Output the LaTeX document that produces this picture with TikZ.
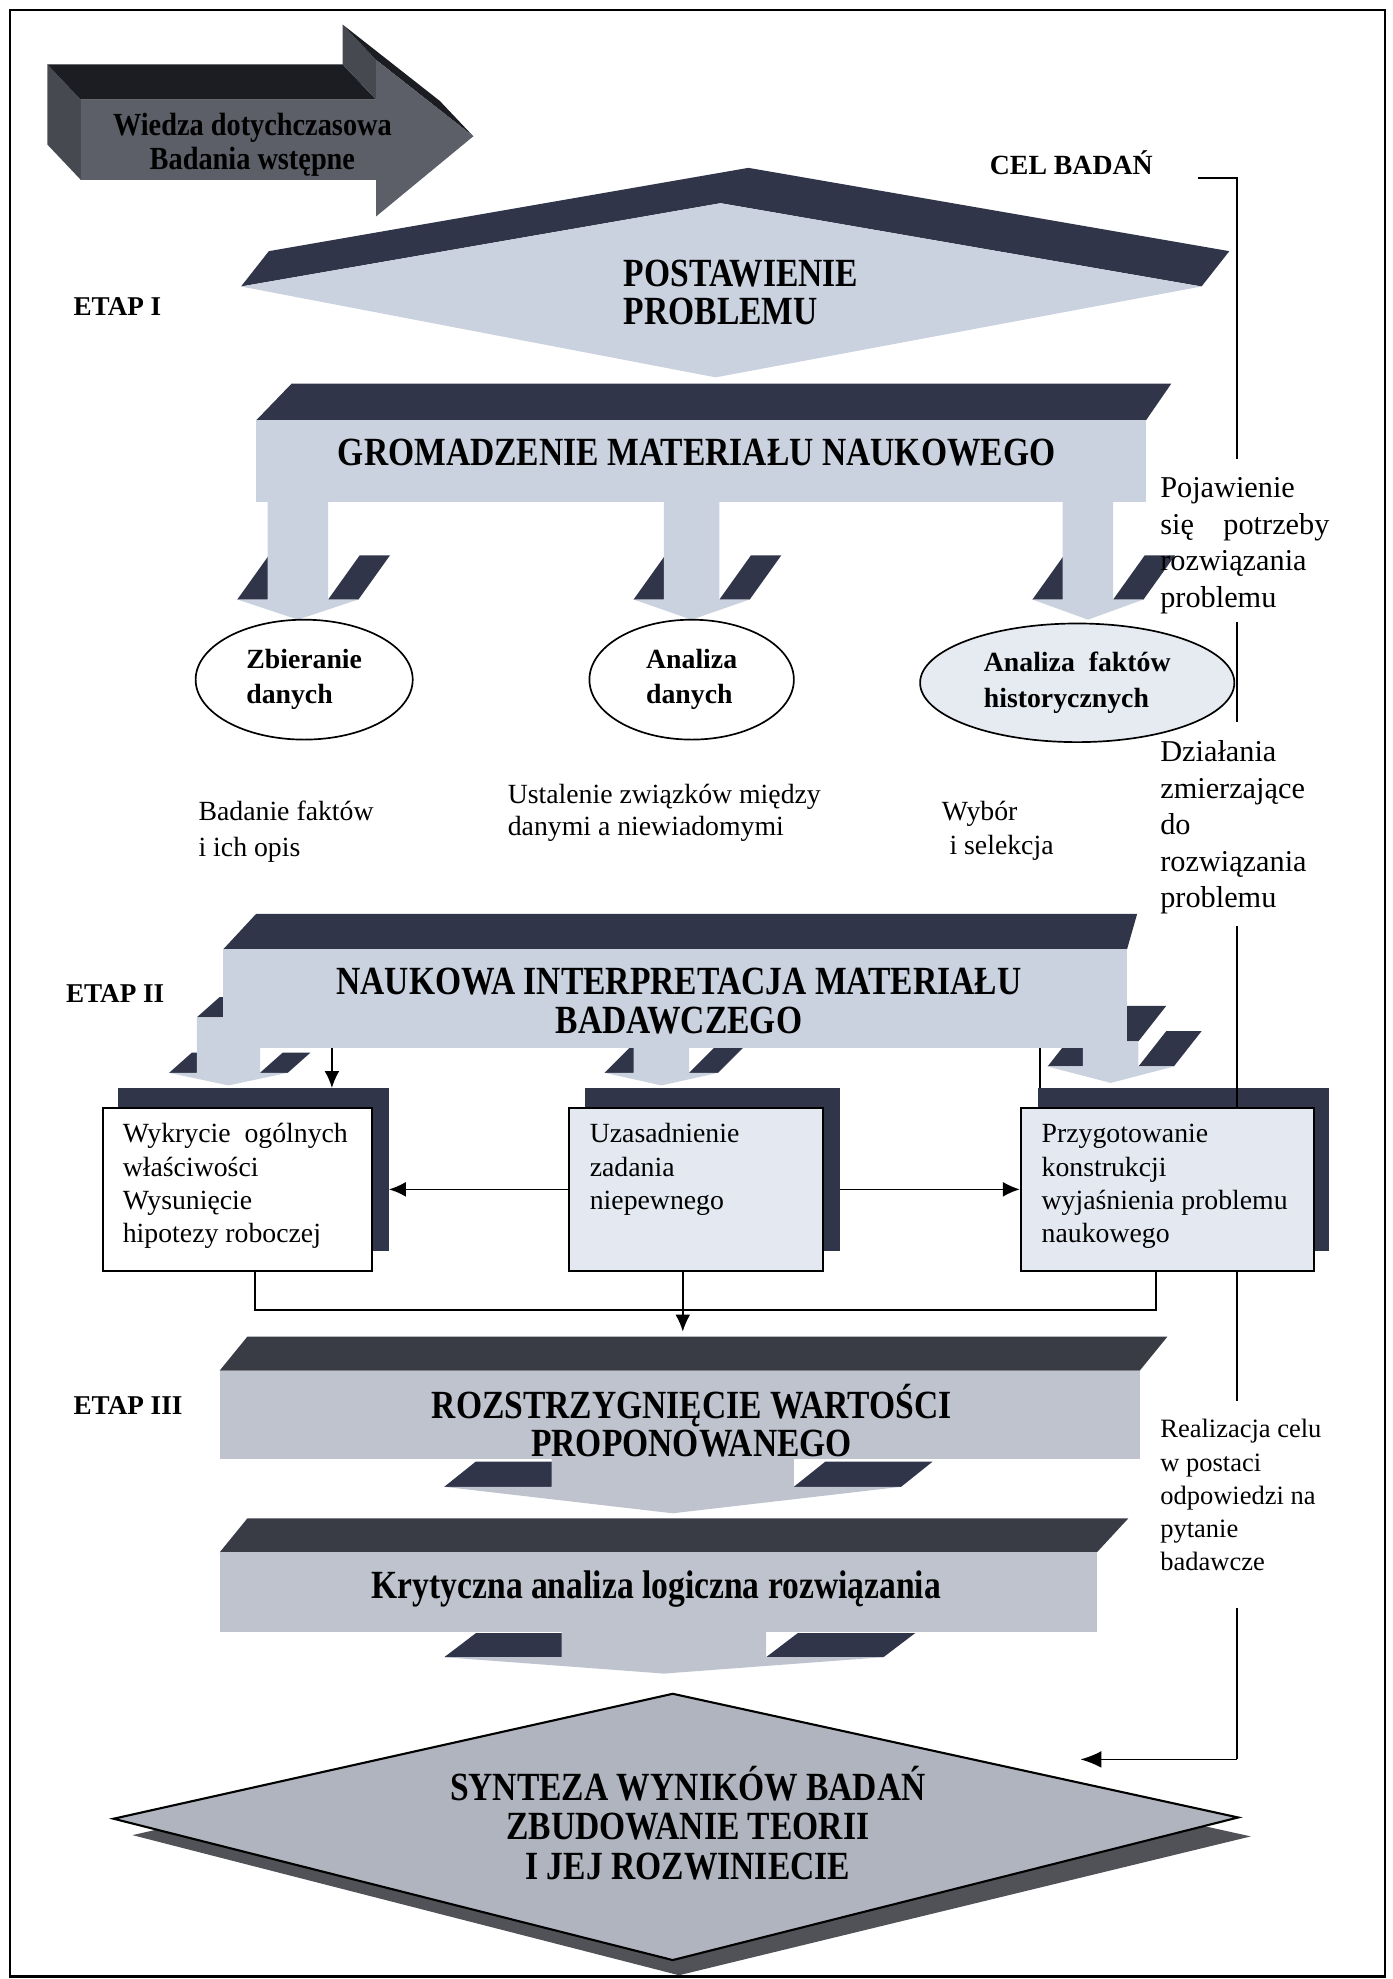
\documentclass[tikz,border=0pt]{standalone}
\usepackage{fontspec}
\setmainfont{Liberation Serif}
\newfontfamily\condfont[FakeStretch=0.84]{Liberation Serif}
\newfontfamily\condfontb[FakeStretch=0.88]{Liberation Serif}
\usetikzlibrary{arrows.meta,shapes.geometric}
\definecolor{lightc}{HTML}{CBD2DF}
\definecolor{greyc}{HTML}{BEC3CD}
\definecolor{darkband}{HTML}{30354A}
\definecolor{greyband}{HTML}{3A3C45}
\definecolor{boxfill}{HTML}{E4E9F1}
\definecolor{ellfill}{HTML}{E6EAF1}
\definecolor{synfill}{HTML}{AFB4BF}
\definecolor{synshadow}{HTML}{505258}
\definecolor{arrfront}{HTML}{5C5F67}
\definecolor{arrtop}{HTML}{1C1D22}
\definecolor{arrside}{HTML}{46494F}
\newcommand\myfs[2]{\fontsize{#1}{#2}\selectfont}
\newcommand\mytopstrut{\rule{0pt}{1em}}
% 3D down arrow: #1 cx, #2 half shaft, #3 half head, #4 shaft top, #5 head base, #6 tip, #7 dx, #8 dy, #9 fill
\newcommand\legarrow[9]{%
 \fill[darkband] ({#1-#3},#5) -- ({#1-#2},#5) -- ({#1-#2+#7},{#5-#8}) -- ({#1-#3+#7},{#5-#8}) -- cycle;
 \fill[darkband] ({#1+#2},#5) -- ({#1+#3},#5) -- ({#1+#3+#7},{#5-#8}) -- ({#1+#2+#7},{#5-#8}) -- cycle;
 \fill[darkband] ({#1-#2},#4) -- ({#1+#2},#4) -- ({#1+#2+#7},{#4-#8}) -- ({#1-#2+#7},{#4-#8}) -- cycle;
 \fill[#9] ({#1-#2},#4) -- ({#1+#2},#4) -- ({#1+#2},#5) -- ({#1+#3},#5) -- (#1,#6) -- ({#1-#3},#5) -- ({#1-#2},#5) -- cycle;}
\begin{document}
\begin{tikzpicture}[x=0.6pt,y=-0.6pt,
  hd/.style={font=\condfont\bfseries\myfs{19}{18.6}, inner sep=0, align=center},
  etap/.style={font=\myfs{12.9}{15}\bfseries, inner sep=0, anchor=base west},
  desc/.style={font=\myfs{13.2}{16.8}, inner sep=0, anchor=north west, align=left},
  side/.style={font=\myfs{14.4}{17.4}, inner sep=0, anchor=north west, align=left},
  ell/.style={ellipse, draw, line width=0.8pt, inner sep=0, font=\myfs{13.2}{16.8}\bfseries, align=left},
  boxs/.style={fill=darkband, inner sep=0, anchor=north west},
  boxf/.style={draw, line width=1pt, inner sep=0, anchor=north west},
  boxt/.style={font=\myfs{13.2}{15.9}, inner sep=0, anchor=north west, align=left},
  conn/.style={line width=0.7pt},
  arr/.style={line width=0.7pt, -{Latex[length=8pt,width=7pt]}}]
\useasboundingbox (0,0) rectangle (1103,1568);
\draw[line width=1pt] (8,8) rectangle (1097,1566);

% top-left 3D arrow
\fill[arrside] (37.5,51) -- (64,79) -- (64,142.5) -- (37.5,114.5) -- cycle;
\fill[arrtop] (37.5,51) -- (271.5,51) -- (298,79) -- (64,79) -- cycle;
\fill[arrside] (271.5,19.5) -- (298,47.5) -- (298,79) -- (271.5,51) -- cycle;
\fill[arrtop] (271.5,19.5) -- (348.5,80) -- (375,108) -- (298,47.5) -- cycle;
\fill[arrfront] (64,79) -- (298,79) -- (298,47.5) -- (375,108) -- (298,171.5) -- (298,142.5) -- (64,142.5) -- cycle;
\node[font=\condfontb\bfseries\myfs{15.3}{16.2}, inner sep=0, align=center, anchor=north] (wiedza) at (200,81.5) {\mytopstrut Wiedza dotychczasowa\\Badania wstępne};

% labels
\node[etap] (etap1) at (58,250) {ETAP I};
\node[etap] (etap2) at (52,794) {ETAP II};
\node[etap] (etap3) at (58,1121) {ETAP III};
\node[font=\myfs{13.2}{15}\bfseries, inner sep=0, anchor=base west] (cel) at (784,138) {CEL BADAŃ};

% right connector
\coordinate (c0) at (949,141);
\coordinate (r0) at (980,141);
\coordinate (r1) at (980,364);
\coordinate (r2) at (980,493);
\coordinate (r3) at (980,572);
\coordinate (r4) at (980,734);
\coordinate (r5) at (980,1110);
\coordinate (r6) at (980,1274);
\coordinate (r7) at (980,1394);
\coordinate (r8) at (856,1394);
\draw[line width=0.8pt] (c0) -- (r0) -- (r1);
\draw[line width=0.8pt] (r2) -- (r3);

% POSTAWIENIE PROBLEMU
\fill[darkband] (191,227) -- (213,199) -- (593,133) -- (974,199) -- (952,227) -- (571,161) -- cycle;
\fill[lightc] (191,227) -- (571,161) -- (952,227) -- (567,299) -- cycle;
\node[hd, align=left, anchor=north west, font=\condfont\bfseries\myfs{19}{18}] (post) at (494,194.8) {\mytopstrut POSTAWIENIE\\PROBLEMU};

% GROMADZENIE
\fill[darkband] (203,333) -- (231,304) -- (928,304) -- (908,333) -- cycle;
\legarrow{236}{24}{48}{396}{475}{491}{25}{35}{lightc}
\legarrow{548}{22}{46}{396}{475}{491}{25}{35}{lightc}
\legarrow{862}{20}{44}{396}{475}{491}{25}{35}{lightc}
\fill[lightc] (203,333) rectangle (908,398);
\node[hd, anchor=base] (grom) at (552,368.5) {GROMADZENIE MATERIAŁU NAUKOWEGO};

% ellipses
\node[ell, fill=white, minimum width=103.2pt, minimum height=57pt] (e1) at (241,538.5) {Zbieranie\\danych};
\node[ell, fill=white, minimum width=97.2pt, minimum height=57pt] (e2) at (548,538.5) {Analiza\\danych};
\node[ell, fill=ellfill, minimum width=149.4pt, minimum height=56.4pt] (e3) at (853.5,541) {Analiza\ \ faktów\\historycznych};

% descriptions
\node[desc] (bad) at (157,628) {\mytopstrut Badanie faktów\\i ich opis};
\node[desc, font=\myfs{13.2}{15.6}] (ust) at (402,614) {\mytopstrut Ustalenie związków między\\danymi a niewiadomymi};
\node[desc, font=\myfs{13.2}{16.2}] (wyb) at (746,628) {\mytopstrut Wybór\\\hspace*{3.6pt}i selekcja};
\node[side] (poj) at (919,370) {\mytopstrut Pojawienie\\\makebox[80.4pt][s]{się potrzeby}\\rozwiązania\\problemu};
\node[side] (dzi) at (919,579) {\mytopstrut Działania\\zmierzające\\do\\rozwiązania\\problemu};
\node[side, font=\myfs{12.6}{15.8}] (rea) at (919,1118) {\mytopstrut Realizacja celu\\w postaci\\odpowiedzi na\\pytanie\\badawcze};

% NAUKOWA INTERPRETACJA
\fill[darkband] (177,752) -- (203,724) -- (901,724) -- (893,752) -- cycle;
\legarrow{181}{25}{47}{806}{850}{860}{18}{16}{lightc}
\legarrow{524}{22}{45}{825}{850}{860}{22}{22}{lightc}
\legarrow{880}{22}{50}{825}{845}{858}{22}{28}{lightc}
\fill[lightc] (177,752) rectangle (893,830);
\node[hd, anchor=north] (nauk) at (538,755.8) {\mytopstrut NAUKOWA INTERPRETACJA MATERIAŁU\\BADAWCZEGO};

% boxes
\node[boxs, minimum width=128.7pt, minimum height=77.4pt] (box1s) at (93,862) {};
\node[boxs, minimum width=121.2pt, minimum height=77.4pt] (box2s) at (463,862) {};
\node[boxs, minimum width=138.6pt, minimum height=77.4pt] (box3s) at (822,862) {};
\draw[line width=0.8pt] (r4) -- (r5);
\node[boxf, fill=white, minimum width=127.8pt, minimum height=77.4pt] (box1) at (81,877) {};
\node[boxf, fill=boxfill, minimum width=120.6pt, minimum height=77.4pt] (box2) at (450,877) {};
\node[boxf, fill=boxfill, minimum width=139.2pt, minimum height=77.4pt] (box3) at (808,877) {};
\node[boxt] (box1t) at (97,883) {\mytopstrut Wykrycie\ \ ogólnych\\właściwości\\Wysunięcie\\hipotezy roboczej};
\node[boxt] (box2t) at (467,883) {\mytopstrut Uzasadnienie\\zadania\\niepewnego};
\node[boxt] (box3t) at (825,883) {\mytopstrut Przygotowanie\\konstrukcji\\wyjaśnienia problemu\\naukowego};

% connectors of ETAP II
\coordinate (nk1) at (263,830);
\coordinate (nk3) at (824,830);
\draw[arr] (nk1) -- (nk1 |- box1s.north);
\draw[conn] (nk3) -- (nk3 |- box3s.north);
\draw[arr] (box2.west) -- (box1s.east |- box2.west);
\draw[arr] (box2s.east |- box2.east) -- (box3.west);
\coordinate (j1) at (202,1038);
\coordinate (j3) at (916,1038);
\coordinate (j2) at (541,1055);
\draw[conn] (j1 |- box1.south) -- (j1) -- (j3) -- (j3 |- box3.south);
\draw[arr] (j2 |- box2.south) -- (j2);

% ROZSTRZYGNIECIE
\fill[greyband] (174,1086) -- (196,1059) -- (925,1059) -- (903,1086) -- cycle;
\legarrow{533}{96}{181}{1150}{1178}{1199}{25}{20}{greyc}
\fill[greyc] (174,1086) rectangle (903,1156);
\node[hd, anchor=north, font=\condfont\bfseries\myfs{19}{18}] (roz) at (548,1091.8) {\mytopstrut ROZSTRZYGNIĘCIE WARTOŚCI\\PROPONOWANEGO};

% Krytyczna
\fill[greyband] (174,1230) -- (196,1203) -- (894,1203) -- (869,1230) -- cycle;
\legarrow{526}{81}{174}{1288}{1313}{1326}{25}{19}{greyc}
\fill[greyc] (174,1230) rectangle (869,1293);
\node[hd, anchor=base] (kryt) at (520,1266.5) {Krytyczna analiza logiczna rozwiązania};

% right connector lower part
\draw[line width=0.8pt] (r6) -- (r7);
\draw[line width=0.8pt, -{Latex[length=10pt,width=8pt]}] (r7) -- (r8);

% SYNTEZA diamond
\fill[synshadow] (105,1454) -- (538,1355) -- (991,1455) -- (538,1565) -- cycle;
\filldraw[fill=synfill, draw=black, line width=1pt] (90,1441) -- (533,1342) -- (981,1440) -- (533,1553) -- cycle;
\node[hd, anchor=north] (syn) at (545,1394.8) {\mytopstrut SYNTEZA WYNIKÓW BADAŃ\\ZBUDOWANIE TEORII\\I JEJ ROZWINIECIE};
\end{tikzpicture}
\end{document}
